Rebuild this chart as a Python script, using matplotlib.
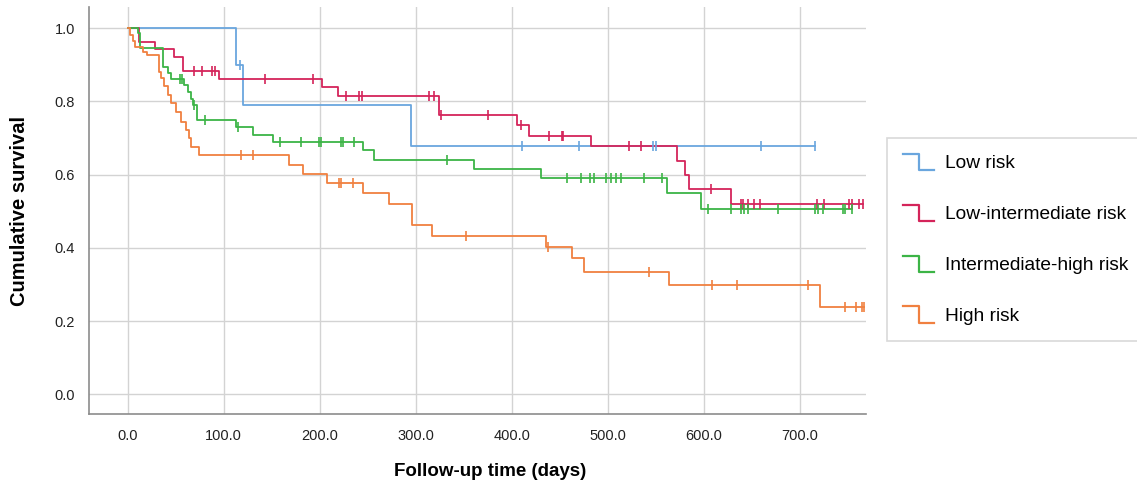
import numpy as np
import matplotlib
matplotlib.use("Agg")
import matplotlib.pyplot as plt
from matplotlib.lines import Line2D
from matplotlib.legend_handler import HandlerBase

plt.rcParams["font.family"] = ["Liberation Sans", "DejaVu Sans"]

# Kaplan-Meier steps (day of event, survival after it)
low_times = [113, 120, 295]
low_surv = [0.900, 0.789, 0.677]
low_cens = [117, 411, 470, 547, 550, 660, 716]

lowint_times = [11.5, 28, 48.6, 58, 95.5, 202, 219, 324, 406, 418, 483, 572, 580, 585, 628.5]
lowint_surv = [0.962, 0.942, 0.921, 0.883, 0.861, 0.839, 0.816, 0.763, 0.736, 0.706,
               0.677, 0.636, 0.599, 0.560, 0.521]
lowint_cens = [69.5, 77.5, 88, 90.5, 143, 193, 227.5, 241, 244, 314, 319.5, 326, 375, 410,
               438.5, 452, 453.5, 522.6, 534.8, 607.7, 639, 641.4, 645.8, 652.8, 658.8,
               717.7, 725.7, 751, 755, 761.5, 766]

inthigh_times = [10.4, 13, 36.5, 41.7, 45, 59, 62.5, 66, 68.5, 72, 113, 130.3, 151,
                 245.5, 257, 361, 430, 562, 597]
inthigh_surv = [0.986, 0.945, 0.895, 0.877, 0.862, 0.845, 0.827, 0.808, 0.790, 0.749,
                0.729, 0.708, 0.690, 0.666, 0.640, 0.615, 0.590, 0.549, 0.506]
inthigh_cens = [54.5, 56.7, 69.4, 80, 115, 158.7, 180.6, 199.7, 201.4, 222.2, 224, 236,
                333, 457.7, 472.3, 481.6, 486, 498, 503.5, 508.7, 514, 538, 556.7, 604,
                628.5, 639, 642.4, 645.8, 677, 716.4, 718.8, 724, 744.8, 747.6, 755]

high_times = [2.5, 5.3, 8, 15.6, 19.8, 33, 34.5, 38.2, 41.7, 45.1, 50.3, 55.6, 60.8, 64.2,
              66, 74.7, 168.4, 183, 207.3, 244.8, 271.9, 296, 317, 435.8, 463, 475.7,
              563.5, 721]
high_surv = [0.982, 0.965, 0.950, 0.936, 0.927, 0.880, 0.863, 0.841, 0.818, 0.795, 0.772,
             0.745, 0.722, 0.699, 0.676, 0.654, 0.626, 0.602, 0.577, 0.549, 0.520, 0.463,
             0.433, 0.403, 0.372, 0.335, 0.299, 0.239]
high_cens = [118, 130, 220.5, 222, 234.4, 352.5, 438, 542.7, 608.7, 634.8, 708.3, 747.6,
             758.8, 765, 767]

labels = ["Low risk", "Low-intermediate risk", "Intermediate-high risk", "High risk"]
colors = ["#6aa6de", "#d4245a", "#3cb446", "#f08040"]


class StepHandler(HandlerBase):
    def create_artists(self, legend, orig_handle, xdescent, ydescent, width, height,
                       fontsize, trans):
        x0 = -xdescent
        mid = x0 + width * 0.5
        top = -ydescent + height * 1.05
        bot = -ydescent - height * 0.2
        line = Line2D([x0, mid, mid, x0 + width], [top, top, bot, bot],
                      color=orig_handle.get_color(), lw=1.6, transform=trans)
        return [line]


def main():
    fig = plt.figure(figsize=(11.37, 4.9), dpi=100)
    ax = fig.add_axes([0.0783, 0.155, 0.6833, 0.8307])

    groups = [
        (low_times, low_surv, low_cens),
        (lowint_times, lowint_surv, lowint_cens),
        (inthigh_times, inthigh_surv, inthigh_cens),
        (high_times, high_surv, high_cens),
    ]

    handles = []
    for (t, s, c), lab, col in zip(groups, labels, colors):
        end = max(max(t), max(c))
        xs = [0] + list(t) + [end]
        ys = [1.0] + list(s) + [s[-1]]
        ax.step(xs, ys, where="post", color=col, lw=1.3, zorder=3)
        # censor marks sit on the curve value at that time
        idx = np.searchsorted(t, c, side="right")
        cy = np.array([1.0] + list(s))[idx]
        ax.plot(c, cy, ls="none", marker="|", ms=7, mew=1.2, color=col, zorder=4)
        handles.append(Line2D([], [], color=col))

    ax.set_xlim(-40.3, 769)
    ax.set_ylim(-0.054, 1.058)
    ax.set_xticks(np.arange(0, 701, 100))
    ax.set_xticklabels([f"{v:.1f}" for v in np.arange(0, 701, 100)])
    ax.set_yticks(np.arange(0, 1.01, 0.2))
    ax.set_yticklabels([f"{v:.1f}" for v in np.arange(0, 1.01, 0.2)])
    ax.grid(True, color="#d3d3d3", lw=1.0)
    ax.set_axisbelow(True)
    for side in ["top", "right"]:
        ax.spines[side].set_visible(False)
    for side in ["left", "bottom"]:
        ax.spines[side].set_color("#8c8c8c")
        ax.spines[side].set_linewidth(1.2)
    ax.tick_params(axis="both", length=0, labelsize=10.5, colors="#222222")
    ax.tick_params(axis="x", pad=11)
    ax.tick_params(axis="y", pad=10)

    ax.set_xlabel("Follow-up time (days)", fontsize=13.5, fontweight="bold")
    ax.xaxis.set_label_coords(0.516, -0.121)
    ax.set_ylabel("Cumulative survival", fontsize=14.5, fontweight="bold")
    ax.yaxis.set_label_coords(-0.077, 0.5)

    leg = fig.legend(handles, labels, handler_map={Line2D: StepHandler()},
                     loc="upper left", bbox_to_anchor=(887 / 1137, 1 - 138 / 490),
                     frameon=True, fancybox=False, fontsize=13.8, handlelength=1.6,
                     handletextpad=0.6, labelspacing=1.75, borderpad=0.85,
                     borderaxespad=0)
    leg.get_frame().set_edgecolor("#d0d0d0")
    leg.get_frame().set_linewidth(1.2)

    fig.savefig("out.png", dpi=100)


if __name__ == "__main__":
    main()
